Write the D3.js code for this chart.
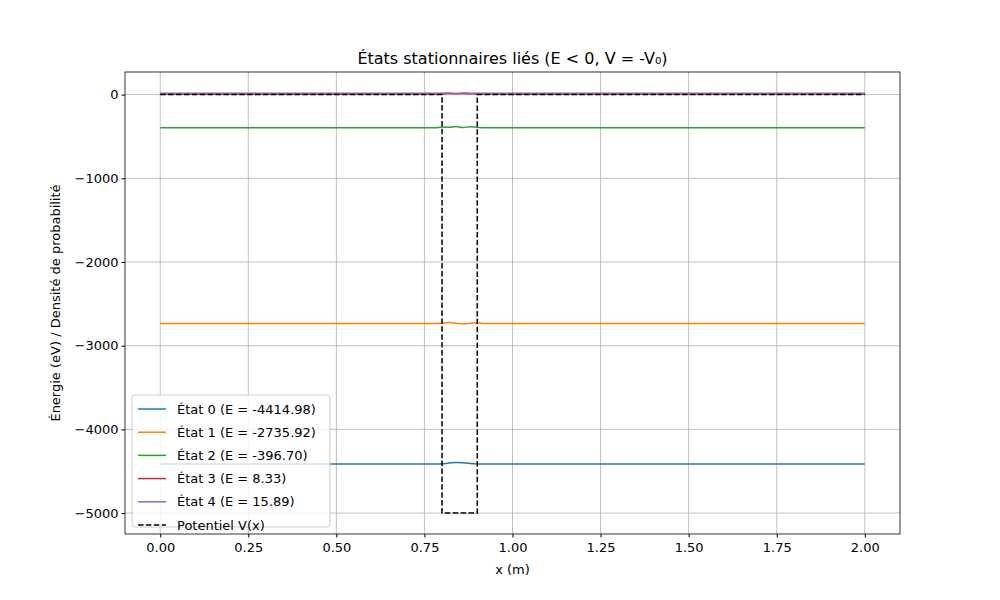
<!DOCTYPE html>
<html><head><meta charset="utf-8">
<script src="https://cdn.jsdelivr.net/npm/d3@7"></script>
<style>body{margin:0;background:#fff}text{font-family:"DejaVu Sans",sans-serif}</style>
</head><body><svg id="c" width="1000" height="600"></svg>
<script>
var xs = [0, 0.78, 0.80, 0.82, 0.84, 0.86, 0.88, 0.90, 0.92, 2.0];
var state0 = [-4415,-4415,-4413,-4402,-4395,-4398,-4407,-4413,-4415,-4415];
var state1 = [-2736,-2736,-2731,-2724,-2733,-2741,-2731,-2727,-2736,-2736];
var state2 = [-397,-397,-388,-391,-381,-394,-383,-391,-397,-397];
var state3 = [8.33,8.33,9,12,10,12,9,8.5,8.33,8.33];
var state4 = [15.89,15.89,17,19,16,19,17,16,15.89,15.89];
var potX = [0, 0.8, 0.8, 0.9, 0.9, 2.0];
var potV = [0, 0, -5000, -5000, 0, 0];
var labels = ["État 0 (E = -4414.98)","État 1 (E = -2735.92)","État 2 (E = -396.70)","État 3 (E = 8.33)","État 4 (E = 15.89)"];
var colors = ["#1f77b4","#ff7f0e","#2ca02c","#d62728","#9467bd"];
var xTicks = [0,0.25,0.5,0.75,1,1.25,1.5,1.75,2];
var yTicks = [0,-1000,-2000,-3000,-4000,-5000];

var svg = d3.select("#c");
var L=125,R=900,T=72,B=534;
var x = d3.scaleLinear().domain([-0.1,2.1]).range([L,R]);
var y = d3.scaleLinear().domain([-5250,270]).range([B,T]);

var g = svg.append("g");
xTicks.forEach(function(t){g.append("line").attr("x1",x(t)).attr("x2",x(t)).attr("y1",T).attr("y2",B).attr("stroke","#b0b0b0").attr("stroke-width",0.8)});
yTicks.forEach(function(t){g.append("line").attr("x1",L).attr("x2",R).attr("y1",y(t)).attr("y2",y(t)).attr("stroke","#b0b0b0").attr("stroke-width",0.8)});

var line = d3.line().x(function(d){return x(d[0])}).y(function(d){return y(d[1])}).curve(d3.curveMonotoneX);
[state0,state1,state2,state3,state4].forEach(function(s,i){
  svg.append("path").attr("d",line(xs.map(function(v,j){return [v,s[j]]}))).attr("fill","none").attr("stroke",colors[i]).attr("stroke-width",1.5);
});
var pline = d3.line().x(function(d){return x(d[0])}).y(function(d){return y(d[1])});
svg.append("path").attr("d",pline(potX.map(function(v,j){return [v,potV[j]]}))).attr("fill","none").attr("stroke","#000").attr("stroke-width",1.5).attr("stroke-dasharray","5.5,2.4");

svg.append("rect").attr("x",L).attr("y",T).attr("width",R-L).attr("height",B-T).attr("fill","none").attr("stroke","#000").attr("stroke-width",0.8);

svg.append("g").attr("transform","translate(0,"+B+")").call(d3.axisBottom(x).tickValues(xTicks).tickFormat(d3.format(".2f")).tickSizeOuter(0).tickSize(3.5)).call(function(a){a.select(".domain").remove();a.selectAll("text").attr("font-size",13).attr("dy","0.9em").attr("font-family","DejaVu Sans")});
svg.append("g").attr("transform","translate("+L+",0)").call(d3.axisLeft(y).tickValues(yTicks).tickFormat(function(d){return d<0?"\u2212"+(-d):d}).tickSizeOuter(0).tickSize(3.5)).call(function(a){a.select(".domain").remove();a.selectAll("text").attr("font-size",13).attr("font-family","DejaVu Sans")});

svg.append("text").attr("x",(L+R)/2).attr("y",64).attr("text-anchor","middle").attr("font-size",16).text("États stationnaires liés (E < 0, V = -V₀)");
svg.append("text").attr("x",(L+R)/2).attr("y",574).attr("text-anchor","middle").attr("font-size",13).text("x (m)");
svg.append("text").attr("transform","translate(60,"+(T+B)/2+") rotate(-90)").attr("text-anchor","middle").attr("font-size",13).text("Énergie (eV) / Densité de probabilité");

var lg = svg.append("g").attr("transform","translate(132,395)");
lg.append("rect").attr("width",198).attr("height",132).attr("rx",3).attr("fill","#fff").attr("fill-opacity",0.8).attr("stroke","#ccc");
labels.concat(["Potentiel V(x)"]).forEach(function(t,i){
  var yy=14+i*23.2;
  lg.append("line").attr("x1",6).attr("x2",34).attr("y1",yy).attr("y2",yy).attr("stroke",i<5?colors[i]:"#000").attr("stroke-width",1.5).attr("stroke-dasharray",i<5?null:"5.5,2.4");
  lg.append("text").attr("x",45).attr("y",yy+4.5).attr("font-size",13).text(t);
});
</script></body></html>
